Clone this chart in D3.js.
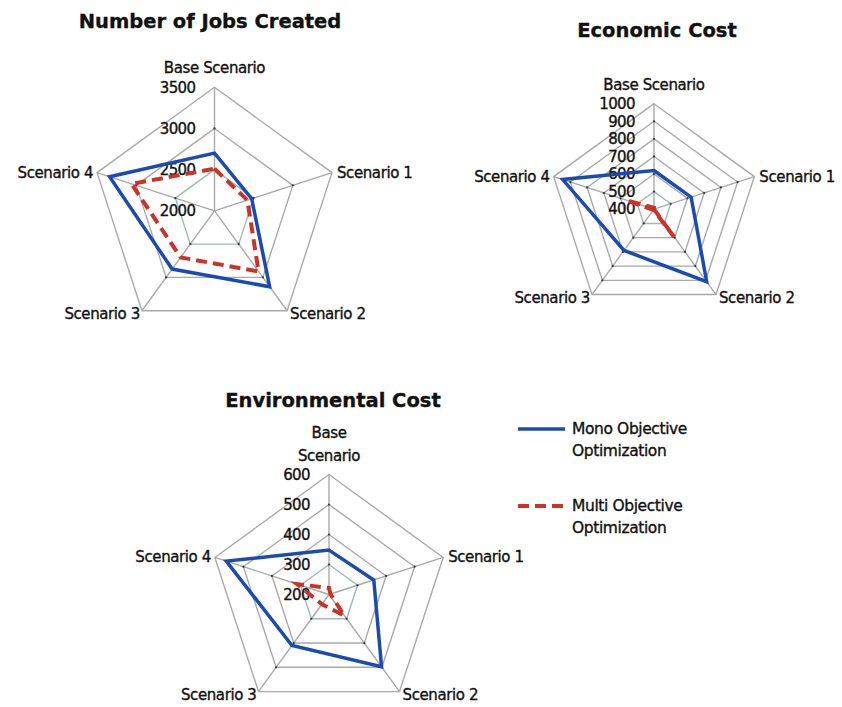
<!DOCTYPE html>
<html>
<head>
<meta charset="utf-8">
<script src="https://cdn.jsdelivr.net/npm/d3@7"></script>
<style>
  body { margin: 0; background: #fff; }
  text { font-family: "DejaVu Sans", sans-serif; fill: #111; stroke: #111; stroke-width: 0.35px; }
</style>
</head>
<body>
<svg id="chart" width="842" height="707"></svg>
<script>
// categories round every radar
const categories = ["Base Scenario", "Scenario 1", "Scenario 2", "Scenario 3", "Scenario 4"];

// Number of Jobs Created
const jobsTicks = [2000, 2500, 3000, 3500];
const jobsMono = [2700, 2475, 3140, 2875, 3340];
const jobsMulti = [2510, 2420, 2910, 2700, 3060];

// Economic Cost
const econTicks = [400, 500, 600, 700, 800, 900, 1000];
const econMono = [620, 622, 910, 690, 946];
const econMulti = [408, 400, 595, 405, 565];

// Environmental Cost
const envTicks = [200, 300, 400, 500, 600];
const envMono = [348, 357, 498, 410, 560];
const envMulti = [222, 205, 287, 240, 312];

const seriesNames = ["Mono Objective Optimization", "Multi Objective Optimization"];

const blue = "#1c4bb0";
const red = "#cc3328";
const grid = "#a9a9a9";

const svg = d3.select("#chart");

function radar(opts) {
  const g = svg.append("g").attr("transform", `translate(${opts.cx},${opts.cy})`);
  const r = d3.scaleLinear()
    .domain(d3.extent(opts.ticks))
    .range([0, opts.R]);
  const angle = d3.scalePoint()
    .domain(categories)
    .range([0, 2 * Math.PI * (categories.length - 1) / categories.length]);

  const xy = (c, v) => {
    let a = angle(c);
    return [Math.sin(a) * r(v), -Math.cos(a) * r(v)];
  };

  // rings
  let ring = d3.lineRadial()
    .angle(d => angle(d.c))
    .radius(d => r(d.v))
    .curve(d3.curveLinearClosed);
  opts.ticks.slice(1).forEach((t, i) => {
    g.append("path")
      .attr("d", ring(categories.map(c => ({c: c, v: t}))))
      .attr("fill", "none")
      .attr("stroke", i == 0 ? "#9fb8b8" : grid)
      .attr("stroke-width", 1.4);
  });

  // spokes
  categories.forEach(c => {
    let p = xy(c, r.domain()[1]);
    g.append("line")
      .attr("x1", 0).attr("y1", 0)
      .attr("x2", p[0]).attr("y2", p[1])
      .attr("stroke", grid)
      .attr("stroke-width", 1.4);
    opts.ticks.slice(1, -1).forEach(t => {
      let q = xy(c, t);
      g.append("circle").attr("cx", q[0]).attr("cy", q[1]).attr("r", 1.1).attr("fill", "#333");
    });
  });

  // tick labels
  g.selectAll("text.tick")
    .data(opts.ticks)
    .enter().append("text")
    .attr("class", "tick")
    .attr("x", -19)
    .attr("y", d => -r(d))
    .attr("dy", "0.35em")
    .attr("text-anchor", "end")
    .attr("font-size", 15)
    .attr("letter-spacing", -0.6)
    .text(d => d);

  // category labels
  categories.forEach((c, i) => {
    let p = xy(c, r.domain()[1]);
    let t = g.append("text").attr("font-size", 15).attr("letter-spacing", -0.4);
    if (i == 0) {
      let lines = opts.baseLines || [c];
      lines.forEach((s, j) => {
        t.append("tspan")
          .attr("x", 0)
          .attr("y", p[1] - 14 - (lines.length - 1 - j) * 23)
          .text(s);
      });
      t.attr("text-anchor", "middle");
    } else if (i == 1) {
      t.attr("x", p[0] + 5).attr("y", p[1] + 5).text(c);
    } else if (i == 4) {
      t.attr("x", p[0] - 4).attr("y", p[1] + 5).attr("text-anchor", "end").text(c);
    } else if (i == 2) {
      t.attr("x", p[0] + 3).attr("y", p[1] + 8).text(c);
    } else {
      t.attr("x", p[0] - 2).attr("y", p[1] + 8).attr("text-anchor", "end").text(c);
    }
  });

  // series
  let line = d3.lineRadial()
    .angle((d, i) => angle(categories[i]))
    .radius(d => r(d))
    .curve(d3.curveLinearClosed);
  g.append("path")
    .attr("d", line(opts.mono))
    .attr("fill", "none")
    .attr("stroke", blue)
    .attr("stroke-width", 3.5)
    .attr("stroke-linejoin", "miter");
  g.append("path")
    .attr("d", line(opts.multi))
    .attr("fill", "none")
    .attr("stroke", red)
    .attr("stroke-width", 4)
    .attr("stroke-dasharray", "11,6");

  // title
  svg.append("text")
    .attr("x", opts.tx)
    .attr("y", opts.ty)
    .attr("text-anchor", "middle")
    .attr("font-size", 19.5)
    .attr("font-weight", "bold")
    .text(opts.title);
}

radar({title: "Number of Jobs Created", cx: 214.5, cy: 210.8, R: 123.5, tx: 210, ty: 28,
  ticks: jobsTicks, mono: jobsMono, multi: jobsMulti});
radar({title: "Economic Cost", cx: 654, cy: 209.2, R: 105.5, tx: 657, ty: 37,
  ticks: econTicks, mono: econMono, multi: econMulti});
radar({title: "Environmental Cost", cx: 329, cy: 594.5, R: 120, tx: 333, ty: 407,
  ticks: envTicks, mono: envMono, multi: envMulti, baseLines: ["Base", "Scenario"]});

// legend
const legend = svg.append("g").attr("transform", "translate(518,429)");
seriesNames.forEach((name, i) => {
  let row = legend.append("g").attr("transform", `translate(0,${i * 77})`);
  row.append("line")
    .attr("x1", 0).attr("x2", 47)
    .attr("stroke", i == 0 ? blue : red)
    .attr("stroke-width", i == 0 ? 3.5 : 4)
    .attr("stroke-dasharray", i == 0 ? null : "11,6");
  let words = name.split(" ");
  let t = row.append("text").attr("font-size", 15.5).attr("letter-spacing", -0.4);
  t.append("tspan").attr("x", 54).attr("y", 5).text(words.slice(0, 2).join(" "));
  t.append("tspan").attr("x", 54).attr("y", 27).text(words[2]);
});
</script>
</body>
</html>
